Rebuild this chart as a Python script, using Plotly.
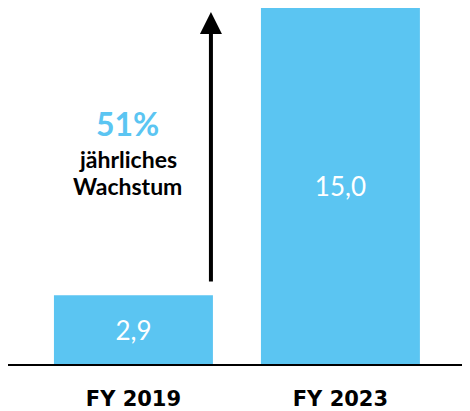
import plotly.graph_objects as go

categories = ["FY 2019", "FY 2023"]
values = [2.9, 15.0]
growth_label = "51%"
growth_text = ["jährliches", "Wachstum"]

BLUE = "#5BC5F2"
FONT = "Lato"


def px_y(page_y):
    # page pixel row -> data value (plot area: 23.733 px per unit, baseline at page row 364)
    return (364 - page_y) / 23.733


def px_x(page_x):
    # page pixel column -> category coordinate (207 px per category step)
    return (page_x - 133.5) / 207


fig = go.Figure()
fig.add_trace(go.Bar(
    x=[0, 1],
    y=values,
    marker=dict(color=BLUE, line=dict(width=0)),
    texttemplate="%{y:.1f}",
    textposition="inside",
    insidetextanchor="middle",
    textfont=dict(color="white", size=26, family=FONT),
    hoverinfo="skip",
))

# growth arrow
arrow_x = px_x(211)
fig.add_annotation(
    x=arrow_x, y=px_y(12), ax=arrow_x, ay=px_y(283),
    xref="x", yref="y", axref="x", ayref="y",
    text="", showarrow=True, arrowhead=2, arrowsize=1.1,
    arrowwidth=4, arrowcolor="black",
)
fig.add_annotation(
    x=px_x(128), y=px_y(123), xref="x", yref="y",
    text=f"<b>{growth_label}</b>", showarrow=False,
    font=dict(color=BLUE, size=32, family=FONT),
)
for line, yy in zip(growth_text, [159, 186]):
    fig.add_annotation(
        x=px_x(128), y=px_y(yy), xref="x", yref="y",
        text=f"<b>{line}</b>", showarrow=False,
        font=dict(color="black", size=23, family=FONT),
    )

fig.update_layout(
    width=462, height=403,
    margin=dict(l=0, r=0, t=0, b=47, autoexpand=False),
    paper_bgcolor="white", plot_bgcolor="white",
    separators=",.",
    bargap=0.232,
    showlegend=False,
    font=dict(family=FONT),
)
fig.update_xaxes(
    range=[-0.606, 1.626],
    tickvals=[0, 1], ticktext=[f"<b>{c}</b>" for c in categories],
    tickfont=dict(size=21, color="black", family="DejaVu Sans"),
    showline=True, linecolor="black", linewidth=2,
    ticks="outside", ticklen=15, tickcolor="rgba(0,0,0,0)",
    showgrid=False, zeroline=False, fixedrange=True, automargin=False,
)
fig.update_yaxes(
    range=[0, 15.0], visible=False, showgrid=False, zeroline=False,
    automargin=False,
)

fig.write_html("out.html")
